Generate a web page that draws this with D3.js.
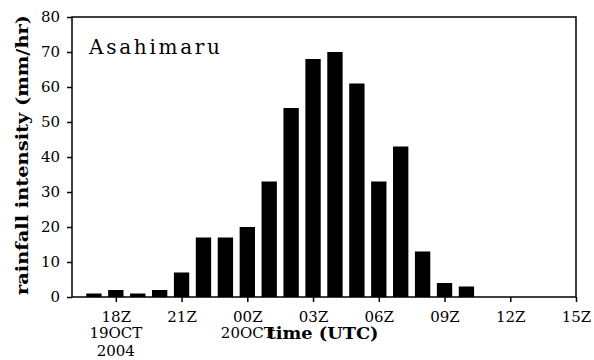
<!DOCTYPE html>
<html>
<head>
<meta charset="utf-8">
<script src="https://cdn.jsdelivr.net/npm/d3@7"></script>
<style>
  body { margin: 0; background: #fff; }
  text { font-family: "DejaVu Serif", serif; fill: #000; }
</style>
</head>
<body>
<div id="chart"></div>
<script>
// hours counted from 19OCT2004 00Z
var barHours = [17, 18, 19, 20, 21, 22, 23, 24, 25, 26, 27, 28, 29, 30, 31, 32, 33, 34];
var rainfall = [1, 2, 1, 2, 7, 17, 17, 20, 33, 54, 68, 70, 61, 33, 43, 13, 4, 3];
var xTickHours = [18, 21, 24, 27, 30, 33, 36, 39];
var xTickLabels = ["18Z", "21Z", "00Z", "03Z", "06Z", "09Z", "12Z", "15Z"];
var dateLabels = [{hour: 18, lines: ["19OCT", "2004"]}, {hour: 24, lines: ["20OCT"]}];
var yTicks = [0, 10, 20, 30, 40, 50, 60, 70, 80];

var width = 594;
var height = 360;
var margin = {top: 17, left: 72, right: 18, bottom: 63};

var svg = d3.select("#chart")
  .append("svg")
  .attr("width", width)
  .attr("height", height);

var x = d3.scaleLinear()
  .domain([16, 39])
  .range([margin.left, width - margin.right]);

var y = d3.scaleLinear()
  .domain([0, 80])
  .range([height - margin.bottom, margin.top]);

var barW = x(0.7) - x(0);

svg.append("g")
  .selectAll("rect")
  .data(barHours)
  .enter()
  .append("rect")
    .attr("x", function(d) { return x(d) - barW / 2; })
    .attr("y", function(d, i) { return y(rainfall[i]); })
    .attr("width", barW)
    .attr("height", function(d, i) { return y(0) - y(rainfall[i]); })
    .attr("fill", "#000");

// frame
svg.append("rect")
  .attr("x", x(16))
  .attr("y", y(80))
  .attr("width", x(39) - x(16))
  .attr("height", y(0) - y(80))
  .attr("fill", "none")
  .attr("stroke", "#000")
  .attr("stroke-width", 1.5);

var yAxis = svg.append("g")
  .attr("transform", "translate(" + x(16) + ",0)")
  .call(d3.axisLeft(y).tickValues(yTicks).tickSize(5).tickPadding(7));

var xAxis = svg.append("g")
  .attr("transform", "translate(0," + y(0) + ")")
  .call(d3.axisBottom(x).tickValues(xTickHours).tickSize(5).tickPadding(9)
    .tickFormat(function(d, i) { return xTickLabels[i]; }));

[yAxis, xAxis].forEach(function(a) {
  a.select(".domain").remove();
  a.selectAll("line").attr("stroke", "#000").attr("stroke-width", 1.5);
  a.selectAll("text")
    .attr("font-family", "DejaVu Serif")
    .attr("font-size", 15)
    .attr("fill", "#000");
});

dateLabels.forEach(function(d) {
  d.lines.forEach(function(l, j) {
    svg.append("text")
      .attr("x", x(d.hour))
      .attr("y", 338 + j * 17.5)
      .attr("text-anchor", "middle")
      .attr("font-size", 15)
      .text(l);
  });
});

svg.append("text")
  .attr("x", 323)
  .attr("y", 339)
  .attr("text-anchor", "middle")
  .attr("font-size", 16)
  .attr("font-weight", "bold")
  .attr("textLength", 111)
  .attr("lengthAdjust", "spacingAndGlyphs")
  .text("time (UTC)");

svg.append("text")
  .attr("transform", "translate(28,155) rotate(-90)")
  .attr("text-anchor", "middle")
  .attr("font-size", 16)
  .attr("font-weight", "bold")
  .attr("textLength", 280)
  .attr("lengthAdjust", "spacingAndGlyphs")
  .text("rainfall intensity (mm/hr)");

svg.append("text")
  .attr("x", 89)
  .attr("y", 54)
  .attr("font-size", 20)
  .attr("textLength", 131)
  .attr("lengthAdjust", "spacing")
  .text("Asahimaru");
</script>
</body>
</html>
